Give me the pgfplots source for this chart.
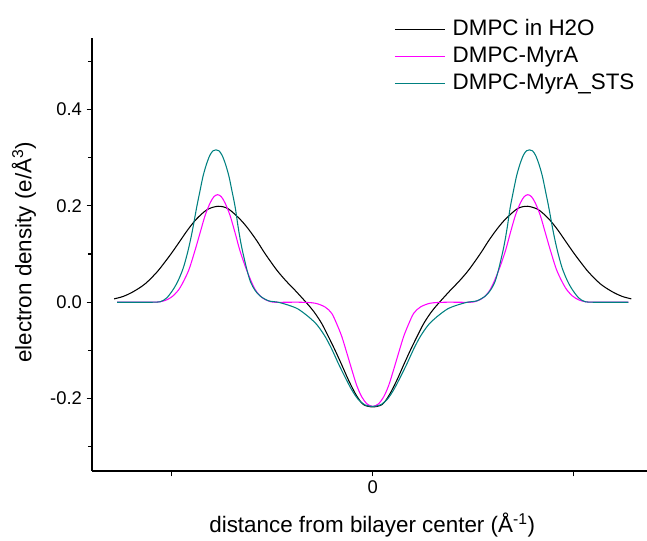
\documentclass[border=0pt]{standalone}
\usepackage{pgfplots}
\pgfplotsset{compat=1.18}
\usepackage{fontspec}
\setmainfont{Liberation Sans}
\definecolor{tealO}{RGB}{0,128,128}
\definecolor{magO}{RGB}{255,0,255}
\begin{document}
\begin{tikzpicture}
\begin{axis}[
  scale only axis, width=416.25pt, height=324.75pt,
  xmin=-1.397, xmax=1.365, ymin=-0.350, ymax=0.548,
  axis x line*=bottom, axis y line*=left,
  axis line style={line width=0.9pt,-},
  tick align=outside, major tick length=4pt, minor tick length=3pt,
  every tick/.style={line width=0.9pt, black},
  xtick={-1,0,1}, xticklabels={{},0,{}},
  ytick={-0.2,0,0.2,0.4}, minor ytick={-0.3,-0.1,0.1,0.3,0.5},
  yticklabel style={/pgf/number format/.cd, fixed, fixed zerofill, precision=1},
  /pgf/number format/assume math mode=true,
  tick label style={font=\fontsize{13.8}{16}\selectfont},
  label style={font=\fontsize{16.8}{20}\selectfont},
  xlabel={distance from bilayer center (Å\textsuperscript{-1})},
  ylabel={electron density (e/Å\textsuperscript{3})},
  x label style={at={(axis description cs:0.505,-0.125)}, anchor=center},
  y label style={at={(axis description cs:-0.1225,0.505)}, anchor=center},
  legend style={at={(0.537,1.058)}, anchor=north west, draw=none, fill=none,
    font=\fontsize{16.8}{20}\selectfont, row sep=0pt,
    nodes={inner sep=2pt, text height=12.5pt, text depth=3.75pt}},
  legend cell align=left,
  legend image code/.code={\draw[#1] (0pt,0pt) -- (37.5pt,0pt); \path (41pt,0pt);},
]
\addplot[black, line width=0.8pt, smooth] coordinates {
(-1.287,0.007) (-1.242,0.012) (-1.191,0.022) (-1.133,0.038) (-1.075,0.062) (-1.033,0.084) (-0.999,0.103) (-0.959,0.127) (-0.919,0.151) (-0.876,0.173) (-0.824,0.192) (-0.770,0.199) (-0.720,0.194) (-0.660,0.172) (-0.619,0.152) (-0.576,0.127) (-0.536,0.101) (-0.478,0.067) (-0.431,0.044) (-0.387,0.025) (-0.328,-0.002) (-0.292,-0.020) (-0.254,-0.044) (-0.222,-0.070) (-0.188,-0.099) (-0.154,-0.130) (-0.121,-0.161) (-0.083,-0.192) (-0.047,-0.212) (0,-0.217)
(0.047,-0.212) (0.083,-0.192) (0.121,-0.161) (0.154,-0.130) (0.188,-0.099) (0.222,-0.070) (0.254,-0.044) (0.292,-0.020) (0.328,-0.002) (0.387,0.025) (0.431,0.044) (0.478,0.067) (0.536,0.101) (0.576,0.127) (0.619,0.152) (0.660,0.172) (0.720,0.194) (0.770,0.199) (0.824,0.192) (0.876,0.173) (0.919,0.151) (0.959,0.127) (0.999,0.103) (1.033,0.084) (1.075,0.062) (1.133,0.038) (1.191,0.022) (1.242,0.012) (1.287,0.007)
};
\addlegendentry{DMPC in H2O}
\addplot[magO, line width=0.8pt, smooth] coordinates {
(-1.272,0) (-1.108,0) (-1.058,0.001) (-1.025,0.005) (-0.994,0.013) (-0.959,0.030) (-0.917,0.065) (-0.884,0.108) (-0.859,0.144) (-0.834,0.180) (-0.809,0.206) (-0.790,0.219) (-0.772,0.223) (-0.754,0.219) (-0.735,0.206) (-0.710,0.180) (-0.685,0.144) (-0.660,0.106) (-0.625,0.064) (-0.586,0.027) (-0.552,0.010) (-0.521,0.003) (-0.486,0) (-0.362,0) (-0.287,-0.002) (-0.237,-0.010) (-0.204,-0.023) (-0.179,-0.045) (-0.154,-0.071) (-0.129,-0.105) (-0.104,-0.140) (-0.080,-0.172) (-0.055,-0.196) (-0.028,-0.211) (0,-0.216)
(0.028,-0.211) (0.055,-0.196) (0.080,-0.172) (0.104,-0.140) (0.129,-0.105) (0.154,-0.071) (0.179,-0.045) (0.204,-0.023) (0.237,-0.010) (0.287,-0.002) (0.362,0) (0.486,0) (0.521,0.003) (0.552,0.010) (0.586,0.027) (0.625,0.064) (0.660,0.106) (0.685,0.144) (0.710,0.180) (0.735,0.206) (0.754,0.219) (0.772,0.223) (0.790,0.219) (0.809,0.206) (0.834,0.180) (0.859,0.144) (0.884,0.108) (0.917,0.065) (0.959,0.030) (0.994,0.013) (1.025,0.005) (1.058,0.001) (1.108,0) (1.272,0)
};
\addlegendentry{DMPC-MyrA}
\addplot[tealO, line width=0.8pt, smooth] coordinates {
(-1.272,0) (-1.108,0) (-1.058,0.001) (-1.025,0.009) (-0.992,0.027) (-0.967,0.046) (-0.942,0.072) (-0.919,0.107) (-0.899,0.145) (-0.876,0.197) (-0.860,0.230) (-0.844,0.262) (-0.826,0.288) (-0.810,0.305) (-0.795,0.314) (-0.780,0.316) (-0.765,0.314) (-0.750,0.305) (-0.734,0.288) (-0.716,0.262) (-0.700,0.230) (-0.684,0.196) (-0.669,0.154) (-0.652,0.114) (-0.627,0.069) (-0.608,0.042) (-0.586,0.025) (-0.561,0.013) (-0.519,0.003) (-0.471,0) (-0.420,-0.006) (-0.372,-0.014) (-0.320,-0.030) (-0.277,-0.047) (-0.237,-0.071) (-0.204,-0.097) (-0.171,-0.127) (-0.138,-0.155) (-0.104,-0.182) (-0.073,-0.201) (-0.038,-0.213) (0,-0.216)
(0.038,-0.213) (0.073,-0.201) (0.104,-0.182) (0.138,-0.155) (0.171,-0.127) (0.204,-0.097) (0.237,-0.071) (0.277,-0.047) (0.320,-0.030) (0.372,-0.014) (0.420,-0.006) (0.471,0) (0.519,0.003) (0.561,0.013) (0.586,0.025) (0.608,0.042) (0.627,0.069) (0.652,0.114) (0.669,0.154) (0.684,0.196) (0.700,0.230) (0.716,0.262) (0.734,0.288) (0.750,0.305) (0.765,0.314) (0.780,0.316) (0.795,0.314) (0.810,0.305) (0.826,0.288) (0.844,0.262) (0.860,0.230) (0.876,0.197) (0.899,0.145) (0.919,0.107) (0.942,0.072) (0.967,0.046) (0.992,0.027) (1.025,0.009) (1.058,0.001) (1.108,0) (1.272,0)
};
\addlegendentry{DMPC-MyrA\_STS}
\end{axis}
\pgfresetboundingbox
\path[use as bounding box] (-69pt,-52.5pt) rectangle (416.25pt,353.25pt);
\end{tikzpicture}
\end{document}
